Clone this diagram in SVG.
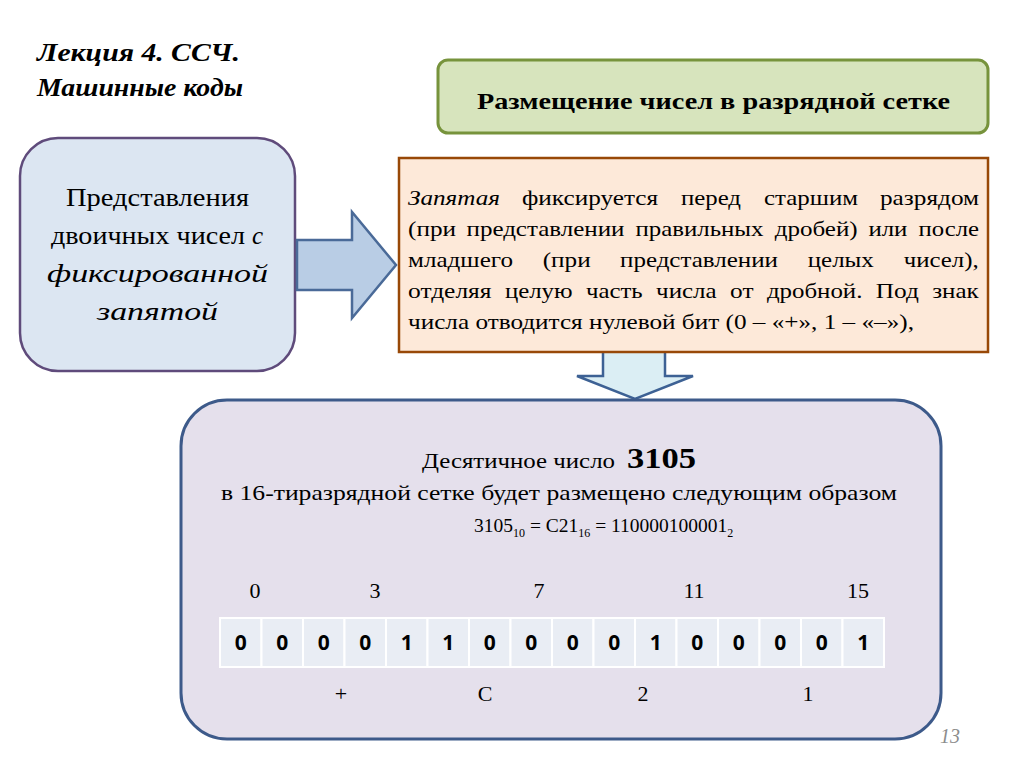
<svg xmlns="http://www.w3.org/2000/svg" width="1024" height="768" viewBox="0 0 1024 768">
<style>
.serif{font-family:"Liberation Serif","DejaVu Serif",serif;fill:#000}
.cell{fill:#e9edf4;stroke:#fff;stroke-width:2}
.bit{font-family:"Open Sans","Liberation Sans",sans-serif;font-weight:bold;font-size:21px;fill:#000;text-anchor:middle}
.num{font-family:"Liberation Serif","DejaVu Serif",serif;font-size:22px;text-anchor:middle;fill:#000}
.ot{font-family:"Liberation Serif","DejaVu Serif",serif;font-size:21.5px;fill:#000}
</style>
<rect width="1024" height="768" fill="#fff"/>
<g id="title">
<text class="serif" x="37" y="61" font-size="26" font-weight="bold" font-style="italic" textLength="203" lengthAdjust="spacingAndGlyphs">Лекция 4. ССЧ.</text>
<text class="serif" x="37" y="96" font-size="26" font-weight="bold" font-style="italic" textLength="206" lengthAdjust="spacingAndGlyphs">Машинные коды</text>
</g>
<g id="left-box">
<rect x="20" y="138" width="275" height="233" rx="38" fill="#dce6f2" stroke="#5f4b7b" stroke-width="2.5"/>
<text class="serif" x="66" y="206" font-size="25" textLength="183" lengthAdjust="spacingAndGlyphs">Представления</text>
<text class="serif" x="51" y="244" font-size="25" textLength="194" lengthAdjust="spacingAndGlyphs">двоичных чисел</text>
<text class="serif" x="252" y="244" font-size="25" font-style="italic">с</text>
<text class="serif" x="47" y="282" font-size="25" font-style="italic" textLength="221" lengthAdjust="spacingAndGlyphs">фиксированной</text>
<text class="serif" x="97" y="320" font-size="25" font-style="italic" textLength="121" lengthAdjust="spacingAndGlyphs">запятой</text>
</g>
<g id="connectors">
<path d="M297,240 H352 V212 L396,265 L352,318 V290 H297 Z" fill="#b9cde5" stroke="#4a6a98" stroke-width="2.5" stroke-linejoin="miter"/>
<path d="M603,352 V376 H577 L635,399 L693,376 H665 V352" fill="#dbeef4" stroke="#3d6194" stroke-width="2.5"/>
</g>
<g id="header-box">
<rect x="438" y="60" width="550" height="73" rx="10" fill="#d7e4bd" stroke="#77933c" stroke-width="3"/>
<text class="serif" x="477" y="109" font-size="23" font-weight="bold" textLength="473" lengthAdjust="spacingAndGlyphs">Размещение чисел в разрядной сетке</text>
</g>
<g id="description-box">
<rect x="399" y="158" width="589" height="194" fill="#fde9d9" stroke="#984807" stroke-width="2.5"/>
<text class="ot" x="408" y="205" font-style="italic" textLength="92" lengthAdjust="spacingAndGlyphs">Запятая</text>
<text class="ot" x="522" y="205" textLength="136" lengthAdjust="spacingAndGlyphs">фиксируется</text>
<text class="ot" x="681" y="205" textLength="60" lengthAdjust="spacingAndGlyphs">перед</text>
<text class="ot" x="764" y="205" textLength="94" lengthAdjust="spacingAndGlyphs">старшим</text>
<text class="ot" x="880" y="205" textLength="99" lengthAdjust="spacingAndGlyphs">разрядом</text>
<text class="ot" x="408" y="236" textLength="48" lengthAdjust="spacingAndGlyphs">(при</text>
<text class="ot" x="466.5" y="236" textLength="158" lengthAdjust="spacingAndGlyphs">представлении</text>
<text class="ot" x="635.5" y="236" textLength="128" lengthAdjust="spacingAndGlyphs">правильных</text>
<text class="ot" x="774.7" y="236" textLength="83" lengthAdjust="spacingAndGlyphs">дробей)</text>
<text class="ot" x="868.4" y="236" textLength="39" lengthAdjust="spacingAndGlyphs">или</text>
<text class="ot" x="918.6" y="236" textLength="60.5" lengthAdjust="spacingAndGlyphs">после</text>
<text class="ot" x="408" y="267" textLength="105" lengthAdjust="spacingAndGlyphs">младшего</text>
<text class="ot" x="542.7" y="267" textLength="48" lengthAdjust="spacingAndGlyphs">(при</text>
<text class="ot" x="620" y="267" textLength="158" lengthAdjust="spacingAndGlyphs">представлении</text>
<text class="ot" x="807.8" y="267" textLength="66" lengthAdjust="spacingAndGlyphs">целых</text>
<text class="ot" x="903.7" y="267" textLength="75" lengthAdjust="spacingAndGlyphs">чисел),</text>
<text class="ot" x="408" y="298" textLength="83.5" lengthAdjust="spacingAndGlyphs">отделяя</text>
<text class="ot" x="504.9" y="298" textLength="67.7" lengthAdjust="spacingAndGlyphs">целую</text>
<text class="ot" x="586" y="298" textLength="56.7" lengthAdjust="spacingAndGlyphs">часть</text>
<text class="ot" x="656.1" y="298" textLength="60.6" lengthAdjust="spacingAndGlyphs">числа</text>
<text class="ot" x="730.1" y="298" textLength="23.4" lengthAdjust="spacingAndGlyphs">от</text>
<text class="ot" x="766.9" y="298" textLength="95.5" lengthAdjust="spacingAndGlyphs">дробной.</text>
<text class="ot" x="875.8" y="298" textLength="43" lengthAdjust="spacingAndGlyphs">Под</text>
<text class="ot" x="932.2" y="298" textLength="46.5" lengthAdjust="spacingAndGlyphs">знак</text>
<text class="ot" x="408" y="329" textLength="506" lengthAdjust="spacingAndGlyphs">числа отводится нулевой бит (0 – «+», 1 – «–»),</text>
</g>
<g id="example-box">
<rect x="181" y="400" width="760" height="339" rx="46" fill="#e5e0ec" stroke="#3d5a8a" stroke-width="3"/>
<text class="serif" x="422" y="468" font-size="21" textLength="193" lengthAdjust="spacingAndGlyphs">Десятичное число</text>
<text class="serif" x="627" y="468" font-size="30" font-weight="bold" textLength="69" lengthAdjust="spacingAndGlyphs">3105</text>
<text class="serif" x="221" y="500" font-size="21" textLength="676" lengthAdjust="spacingAndGlyphs">в 16-тиразрядной сетке будет размещено следующим образом</text>
<text class="serif" x="474" y="532" font-size="19.5">3105<tspan font-size="12" dy="5">10</tspan><tspan dy="-5"> = C21</tspan><tspan font-size="12" dy="5">16</tspan><tspan dy="-5"> = 110000100001</tspan><tspan font-size="12" dy="5">2</tspan></text>
<g id="indices">
<text class="num" x="255" y="598">0</text>
<text class="num" x="375" y="598">3</text>
<text class="num" x="539" y="598">7</text>
<text class="num" x="694" y="598">11</text>
<text class="num" x="858" y="598">15</text>
</g>
<g id="grid">
<rect class="cell" x="220" y="618" width="41.5" height="49"/>
<rect class="cell" x="261.5" y="618" width="41.5" height="49"/>
<rect class="cell" x="303" y="618" width="41.5" height="49"/>
<rect class="cell" x="344.5" y="618" width="41.5" height="49"/>
<rect class="cell" x="386" y="618" width="41.5" height="49"/>
<rect class="cell" x="427.5" y="618" width="41.5" height="49"/>
<rect class="cell" x="469" y="618" width="41.5" height="49"/>
<rect class="cell" x="510.5" y="618" width="41.5" height="49"/>
<rect class="cell" x="552" y="618" width="41.5" height="49"/>
<rect class="cell" x="593.5" y="618" width="41.5" height="49"/>
<rect class="cell" x="635" y="618" width="41.5" height="49"/>
<rect class="cell" x="676.5" y="618" width="41.5" height="49"/>
<rect class="cell" x="718" y="618" width="41.5" height="49"/>
<rect class="cell" x="759.5" y="618" width="41.5" height="49"/>
<rect class="cell" x="801" y="618" width="41.5" height="49"/>
<rect class="cell" x="842.5" y="618" width="41.5" height="49"/>
<text class="bit" x="240.75" y="650">0</text>
<text class="bit" x="282.25" y="650">0</text>
<text class="bit" x="323.75" y="650">0</text>
<text class="bit" x="365.25" y="650">0</text>
<text class="bit" x="406.75" y="650">1</text>
<text class="bit" x="448.25" y="650">1</text>
<text class="bit" x="489.75" y="650">0</text>
<text class="bit" x="531.25" y="650">0</text>
<text class="bit" x="572.75" y="650">0</text>
<text class="bit" x="614.25" y="650">0</text>
<text class="bit" x="655.75" y="650">1</text>
<text class="bit" x="697.25" y="650">0</text>
<text class="bit" x="738.75" y="650">0</text>
<text class="bit" x="780.25" y="650">0</text>
<text class="bit" x="821.75" y="650">0</text>
<text class="bit" x="863.25" y="650">1</text>
</g>
<g id="hex-labels">
<text class="num" x="341" y="701">+</text>
<text class="num" x="485" y="701">C</text>
<text class="num" x="643" y="701">2</text>
<text class="num" x="808" y="701">1</text>
</g>
</g>
<text x="950" y="743" font-family="Liberation Serif,serif" font-style="italic" font-size="20" fill="#8c8c8c" text-anchor="middle">13</text>
</svg>
